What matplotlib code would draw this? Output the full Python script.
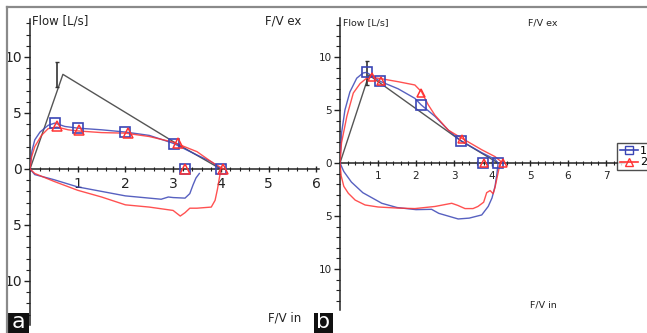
import matplotlib
matplotlib.use('Agg')
import matplotlib.pyplot as plt
from matplotlib.lines import Line2D
from matplotlib.patches import Rectangle
from matplotlib.ticker import MultipleLocator, FuncFormatter

# ---- panel a : volume [L] / flow [L/s] (inspiration stored positive, drawn downward)
a_pred_v = [0, 0.69, 3.06, 4.0]
a_pred_f = [0, 8.45, 2.3, 0]
a_err = (0.57, 8.47, 1.12)

a_blue_ex_v = [0, 0.04, 0.1, 0.21, 0.38, 0.52, 0.73, 1.0, 1.5, 2.0, 2.5, 3.0, 3.5, 3.8, 4.0]
a_blue_ex_f = [0, 1.6, 2.6, 3.3, 3.9, 4.1, 3.8, 3.65, 3.5, 3.3, 3.0, 2.3, 1.25, 0.65, 0]
a_red_ex_v = [0, 0.035, 0.1, 0.24, 0.38, 0.56, 0.8, 1.0, 1.5, 2.0, 2.5, 3.0, 3.5, 3.8, 4.05]
a_red_ex_f = [0, 1.1, 2.0, 3.0, 3.6, 3.75, 3.5, 3.4, 3.25, 3.2, 2.9, 2.4, 1.55, 0.65, 0]
a_blue_in_v = [0, 0.1, 0.5, 1.0, 1.5, 2.0, 2.5, 2.75, 2.9, 3.0, 3.25, 3.35, 3.42, 3.48, 3.55]
a_blue_in_f = [0, 0.5, 0.95, 1.6, 2.0, 2.4, 2.6, 2.7, 2.5, 2.55, 2.6, 2.2, 1.4, 0.8, 0.4]
a_red_in_v = [0, 0.1, 0.5, 1.0, 1.5, 2.0, 2.5, 3.0, 3.15, 3.25, 3.35, 3.5, 3.8, 3.88, 3.93, 3.97, 4.0]
a_red_in_f = [0, 0.4, 1.1, 1.9, 2.5, 3.2, 3.4, 3.7, 4.2, 3.9, 3.5, 3.5, 3.4, 2.8, 1.8, 0.8, 0.1]
a_sq_v = [0.52, 1.0, 2.0, 3.02, 4.0, 3.25]
a_sq_f = [4.15, 3.7, 3.3, 2.2, 0, 0]
a_tri_v = [0.56, 1.02, 2.05, 3.1, 4.05, 3.25]
a_tri_f = [3.85, 3.45, 3.2, 2.35, 0, 0]

# ---- panel b
b_pred_v = [0, 0.76, 3.18, 4.16]
b_pred_f = [0, 8.3, 2.1, 0]
b_err = (0.72, 8.5, 1.15)

b_blue_ex_v = [0, 0.04, 0.13, 0.26, 0.44, 0.61, 0.7, 1.06, 1.53, 1.97, 2.13, 2.5, 2.85, 3.18, 3.73, 4.08, 4.16]
b_blue_ex_f = [0, 2.8, 5.0, 6.7, 8.0, 8.5, 8.55, 7.7, 7.0, 6.1, 5.5, 4.4, 3.1, 2.1, 0.97, 0.35, 0]
b_red_ex_v = [0, 0.04, 0.18, 0.35, 0.53, 0.7, 0.83, 1.0, 1.53, 1.97, 2.15, 2.32, 2.5, 2.85, 3.2, 3.73, 4.08, 4.25]
b_red_ex_f = [0, 1.9, 4.4, 6.6, 7.5, 8.0, 8.1, 8.0, 7.67, 7.36, 6.7, 5.5, 4.5, 3.1, 2.35, 1.25, 0.6, 0.1]
b_blue_in_v = [0, 0.1, 0.3, 0.6, 1.1, 1.5, 2.0, 2.41, 2.6, 3.11, 3.4, 3.73, 3.9, 4.0, 4.08, 4.13, 4.16]
b_blue_in_f = [0, 0.8, 1.8, 2.8, 3.8, 4.2, 4.4, 4.37, 4.75, 5.28, 5.2, 4.9, 4.1, 3.3, 2.2, 1.0, 0]
b_red_in_v = [0, 0.03, 0.1, 0.22, 0.4, 0.66, 1.0, 1.5, 1.97, 2.5, 2.94, 3.1, 3.29, 3.5, 3.63, 3.78, 3.86, 3.95, 4.03, 4.08, 4.12, 4.18, 4.22]
b_red_in_f = [0, 1.2, 2.2, 2.86, 3.5, 3.96, 4.15, 4.25, 4.3, 4.1, 3.8, 4.0, 4.3, 4.3, 4.1, 3.7, 2.8, 2.6, 2.9, 2.3, 1.6, 0.6, 0]
b_sq_v = [0.70, 1.06, 2.13, 3.18, 3.75, 4.16]
b_sq_f = [8.55, 7.7, 5.5, 2.1, 0, 0]
b_tri_v = [0.83, 1.08, 2.13, 3.2, 3.78, 4.28]
b_tri_f = [8.1, 7.75, 6.6, 2.3, 0, 0]

legend_labels = ['1', '2']

BLUE = '#3a45b5'
RED = '#ff3333'
GRAY = '#555555'
W, H = 647, 333

fig = plt.figure(figsize=(W / 100, H / 100), dpi=100)


def px(x, y):
    return x / W, 1 - y / H


def make_axes(rect, xlim, ylim, xmax_tick, fs):
    ax = fig.add_axes(rect)
    ax.set_xlim(*xlim)
    ax.set_ylim(*ylim)
    ax.patch.set_alpha(0)
    for s in ['top', 'right']:
        ax.spines[s].set_visible(False)
    ax.spines['left'].set_position(('data', 0))
    ax.spines['bottom'].set_position(('data', 0))
    for s in ['left', 'bottom']:
        ax.spines[s].set_linewidth(1.1)
        ax.spines[s].set_color('#222222')
    ax.set_xticks(range(1, xmax_tick + 1))
    ax.xaxis.set_minor_locator(MultipleLocator(0.2))
    ax.set_yticks([-10, -5, 0, 5, 10])
    ax.yaxis.set_minor_locator(MultipleLocator(1))
    ax.yaxis.set_major_formatter(FuncFormatter(lambda v, p: '%d' % abs(v)))
    ax.tick_params(axis='x', which='major', direction='inout', length=5, width=1,
                   labelsize=fs, pad=3, colors='#222222')
    ax.tick_params(axis='x', which='minor', direction='inout', length=3, width=0.8, colors='#222222')
    ax.tick_params(axis='y', which='major', direction='out', length=4, width=1,
                   labelsize=fs, pad=2, colors='#222222')
    ax.tick_params(axis='y', which='minor', direction='out', length=3, width=0.8, colors='#222222')
    return ax


def draw(ax, pred_v, pred_f, err, bex_v, bex_f, rex_v, rex_f, bin_v, bin_f, rin_v, rin_f,
         sq_v, sq_f, tri_v, tri_f, ms):
    ax.plot(pred_v, pred_f, color=GRAY, lw=1.0, zorder=2)
    ax.errorbar([err[0]], [err[1]], yerr=[err[2]], fmt='none', ecolor='#333333',
                elinewidth=1.2, capsize=1.5, zorder=2)
    ax.plot(bex_v, bex_f, color=BLUE, lw=1.0, alpha=0.85, zorder=3)
    ax.plot(rex_v, rex_f, color=RED, lw=1.0, alpha=0.85, zorder=3)
    ax.plot(bin_v, [-f for f in bin_f], color=BLUE, lw=1.0, alpha=0.85, zorder=3)
    ax.plot(rin_v, [-f for f in rin_f], color=RED, lw=1.0, alpha=0.85, zorder=3)
    ax.plot(sq_v, sq_f, ls='none', marker='s', ms=ms, mfc='none', mec=BLUE, mew=1.2, zorder=4)
    ax.plot(tri_v, tri_f, ls='none', marker='^', ms=ms * 0.9, mfc='none', mec=RED, mew=1.1, zorder=4)


# panel a : y-axis at px 30, x-axis at px 169, 47.7 px per L, 11.2 px per L/s
xa0, ya0, sxa, sya = 30, 169, 47.7, 11.2
a_top, a_bot, a_right = 19, 325, 318.6
ax_a = make_axes([xa0 / W, 1 - a_bot / H, (a_right - xa0) / W, (a_bot - a_top) / H],
                 (0, (a_right - xa0) / sxa), (-(a_bot - ya0) / sya, (ya0 - a_top) / sya), 6, 10)
draw(ax_a, a_pred_v, a_pred_f, a_err, a_blue_ex_v, a_blue_ex_f, a_red_ex_v, a_red_ex_f,
     a_blue_in_v, a_blue_in_f, a_red_in_v, a_red_in_f, a_sq_v, a_sq_f, a_tri_v, a_tri_f, 7.5)

# panel b : y-axis at px 340, x-axis at px 163, 38 px per L, 10.6 px per L/s
xb0, yb0, sxb, syb = 340, 163, 38.0, 10.6
b_top, b_bot, b_right = 18, 310, 625
ax_b = make_axes([xb0 / W, 1 - b_bot / H, (b_right - xb0) / W, (b_bot - b_top) / H],
                 (0, (b_right - xb0) / sxb), (-(b_bot - yb0) / syb, (yb0 - b_top) / syb), 7, 7.5)
draw(ax_b, b_pred_v, b_pred_f, b_err, b_blue_ex_v, b_blue_ex_f, b_red_ex_v, b_red_ex_f,
     b_blue_in_v, b_blue_in_f, b_red_in_v, b_red_in_f, b_sq_v, b_sq_f, b_tri_v, b_tri_f, 6.5)

handles = [Line2D([], [], color=BLUE, lw=1.2, marker='s', ms=6, mfc='none', mec=BLUE),
           Line2D([], [], color=RED, lw=1.2, marker='^', ms=5.5, mfc='none', mec=RED)]
leg = fig.legend(handles, legend_labels, loc='upper left', bbox_to_anchor=px(617, 143),
                 fontsize=8, frameon=True, fancybox=False, handlelength=1.6,
                 borderpad=0.25, labelspacing=0.15, handletextpad=0.2, borderaxespad=0)
leg.get_frame().set_edgecolor('#222222')
leg.get_frame().set_linewidth(1.0)

# texts
txt = dict(color='#222222', va='center', ha='left')
fig.text(*px(32, 21), 'Flow [L/s]', fontsize=8.5, **txt)
fig.text(*px(265, 21), 'F/V ex', fontsize=8.5, **txt)
fig.text(*px(268, 318), 'F/V in', fontsize=8.5, **txt)
fig.text(*px(343, 23), 'Flow [L/s]', fontsize=6.8, **txt)
fig.text(*px(528, 23), 'F/V ex', fontsize=6.8, **txt)
fig.text(*px(530, 305), 'F/V in', fontsize=6.8, **txt)

# outer frame lines
fig.add_artist(Line2D([7 / W, 1], [1 - 7 / H, 1 - 7 / H], color='#8a8a8a', lw=1.6))
fig.add_artist(Line2D([7 / W, 7 / W], [0, 1 - 7 / H], color='#8a8a8a', lw=1.6))

# panel letters
for x0, x1, lab in [(7, 29, 'a'), (314, 333, 'b')]:
    fig.add_artist(Rectangle((x0 / W, 0), (x1 - x0) / W, 20 / H, transform=fig.transFigure,
                             facecolor='#111111', edgecolor='none'))
    fig.text((x0 + x1) / 2 / W, 10.5 / H, lab, color='white', fontsize=16,
             ha='center', va='center')

fig.savefig('out.png', dpi=100)
